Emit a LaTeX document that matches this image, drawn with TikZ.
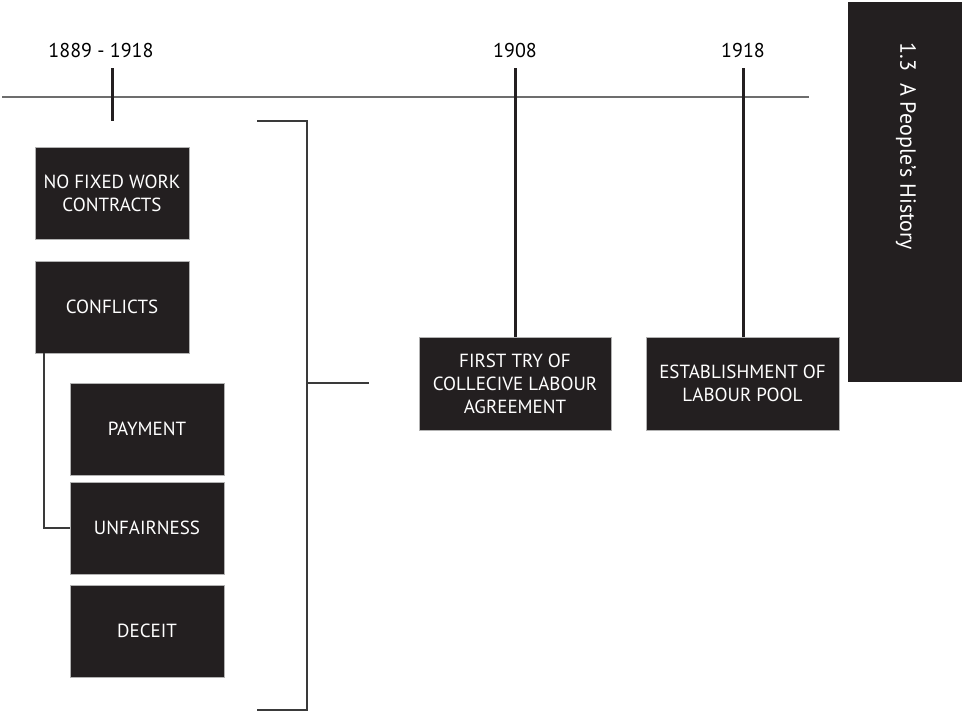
\documentclass[tikz,border=0pt]{standalone}
\usepackage{fontspec}
\setmainfont{PT Sans}
\definecolor{boxfill}{HTML}{231F20}
\definecolor{tlgray}{HTML}{6D6D6D}
\definecolor{lngray}{HTML}{3A3A3A}
\begin{document}
\begin{tikzpicture}[x=1pt,y=-1pt,
  darkbox/.style={rectangle, fill=boxfill, draw=gray!60, line width=0.6pt, text=white, align=center, inner sep=0pt, font=\fontsize{19}{23}\selectfont},
  yearlabel/.style={inner sep=0pt, text=black, font=\fontsize{20}{24}\selectfont},
  stem/.style={draw=boxfill, line width=3pt},
  thinline/.style={draw=lngray, line width=1.2pt}
]
\useasboundingbox (0,0) rectangle (962,712);
% side title
\node[rectangle, fill=boxfill, minimum width=114pt, minimum height=380pt, inner sep=0pt] (side) at (905,192) {};
\node[rotate=-90, text=white, inner sep=0pt, font=\fontsize{22}{26}\selectfont] (title) at (906,146.5) {1.3\ \ A People's History};
% timeline
\coordinate (tl0) at (2,97);
\coordinate (tl1) at (809,97);
\draw[draw=tlgray, line width=1.8pt] (tl0) -- (tl1);
% year labels
\node[yearlabel] (y1) at (101,50) {1889 - 1918};
\node[yearlabel] (y2) at (515,50) {1908};
\node[yearlabel] (y3) at (743,50) {1918};
% tick 1889
\coordinate (t1a) at (112,68);
\coordinate (t1b) at (112,121);
\draw[stem] (t1a) -- (t1b);
% left boxes
\node[darkbox, minimum width=154pt, minimum height=92pt] (b1) at (112,193) {NO FIXED WORK\\CONTRACTS};
\node[darkbox, minimum width=154pt, minimum height=92pt] (b2) at (112,307) {CONFLICTS};
\node[darkbox, minimum width=154pt, minimum height=92pt] (b3) at (147,429) {PAYMENT};
\node[darkbox, minimum width=154pt, minimum height=92pt] (b4) at (147,528) {UNFAIRNESS};
\node[darkbox, minimum width=154pt, minimum height=92pt] (b5) at (147,631) {DECEIT};
% right boxes
\node[darkbox, minimum width=192pt, minimum height=93pt] (r1) at (515,383.5) {FIRST TRY OF\\COLLECIVE LABOUR\\AGREEMENT};
\node[darkbox, minimum width=193pt, minimum height=93pt] (r2) at (742.5,383.5) {ESTABLISHMENT OF\\LABOUR POOL};
% stems
\coordinate (s2) at (515,68);
\coordinate (s3) at (743,68);
\draw[stem] (s2) -- (r1.north);
\draw[stem] (s3) -- (r2.north -| s3);
% connector conflicts -> unfairness
\coordinate (c0) at (44,353);
\draw[thinline] (c0) |- (b4.west);
% bracket
\coordinate (br0) at (257,121);
\coordinate (br1) at (307,121);
\coordinate (br2) at (307,710);
\coordinate (br3) at (257,710);
\coordinate (brm) at (307,383);
\coordinate (brt) at (369,383);
\draw[thinline] (br0) -- (br1) -- (br2) -- (br3);
\draw[thinline] (brm) -- (brt);
\end{tikzpicture}
\end{document}
